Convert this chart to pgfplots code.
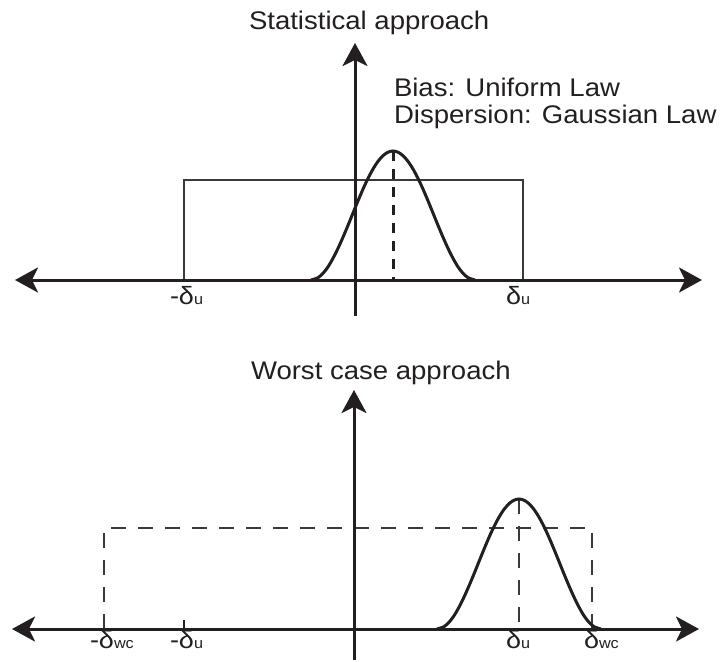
\documentclass[border=0pt]{standalone}
\usepackage{pgfplots}
\pgfplotsset{compat=1.18}
\usepackage{fontspec}
\setmainfont{Liberation Sans}[FakeStretch=1.08]
\usetikzlibrary{arrows.meta}

\definecolor{ink}{RGB}{35,31,32}
\definecolor{thin}{RGB}{60,57,58}

% one label of the form  [-]delta_sub
\newcommand{\dlab}[2]{{\fontsize{25}{29}\selectfont #1δ}{\fontsize{15}{17}\selectfont #2}}

\tikzset{
  axisarrow/.style={line width=3pt, draw=ink,
    {Stealth[length=23pt,width=25pt,inset=6pt]}-{Stealth[length=23pt,width=25pt,inset=6pt]}},
  uparrow/.style={line width=3pt, draw=ink, -{Stealth[length=23pt,width=25pt,inset=6pt]}},
  lab/.style={anchor=base west, text=ink, inner sep=0pt, outer sep=0pt},
}

\begin{document}
\begin{tikzpicture}
\begin{axis}[
  width=720pt, height=661pt, scale only axis,
  xmin=0, xmax=720, ymin=0, ymax=661, y dir=reverse,
  hide axis, clip=false,
]
% page frame
\addplot[draw=none] coordinates {(0,0) (720,661)};

% ---------------- Statistical approach ----------------
% bias: uniform law
\addplot[line width=1.3pt, draw=thin] coordinates {(184,280) (184,180) (523,180) (523,280)};
% dispersion: raised bell around the bias
\addplot[line width=3pt, draw=ink, smooth] coordinates {
  (311,280) (318,277.69) (323,273.32) (328,266.88) (333,258.29) (338,248.33)
  (343,237.21) (348,225.34) (353,213.01) (358,200.83) (363,189.11) (368,178.39)
  (373,169.03) (378,161.36) (383,155.68) (388,152.17) (393,151.0)
  (398,152.17) (403,155.68) (408,161.36) (413,169.03) (418,178.39) (423,189.11)
  (428,200.83) (433,213.01) (438,225.34) (443,237.21) (448,248.33) (453,258.29)
  (458,266.88) (463,273.32) (468,277.69) (475,280)};
\addplot[line width=3pt, draw=ink, dash pattern=on 10pt off 8pt] coordinates {(393,151) (393,280)};
% axes
\addplot[axisarrow] coordinates {(15,280) (702,280)};
\addplot[uparrow] coordinates {(355,316) (355,43)};

\node[lab] at (axis cs:249,29) {\fontsize{25.5}{30}\selectfont Statistical approach};
\node[lab] at (axis cs:394,96) {\fontsize{25.5}{30}\selectfont Bias: Uniform Law};
\node[lab] at (axis cs:394,123) {\fontsize{25.5}{30}\selectfont Dispersion: Gaussian Law};
\node[lab] at (axis cs:170,304) {\dlab{-}{u}};
\node[lab] at (axis cs:506,304) {\dlab{}{u}};

% ---------------- Worst case approach ----------------
\addplot[line width=1.4pt, draw=thin, dash pattern=on 15pt off 12pt] coordinates {(104,629) (104,528) (592,528) (592,629)};
\addplot[line width=1.4pt, draw=thin, dash pattern=on 15pt off 12pt] coordinates {(519,499) (519,629)};
\addplot[line width=3pt, draw=ink, smooth] coordinates {
  (437,629) (444,626.67) (449,622.27) (454,615.78) (459,607.12) (464,597.08)
  (469,585.88) (474,573.92) (479,561.49) (484,549.22) (489,537.40) (494,526.60)
  (499,517.17) (504,509.44) (509,503.72) (514,500.18) (519,499.0)
  (524,500.18) (529,503.72) (534,509.44) (539,517.17) (544,526.60) (549,537.40)
  (554,549.22) (559,561.49) (564,573.92) (569,585.88) (574,597.08) (579,607.12)
  (584,615.78) (589,622.27) (594,626.67) (601,629)};
\addplot[line width=2pt, draw=ink] coordinates {(184,620) (184,629)};
\addplot[axisarrow] coordinates {(12,629) (699,629)};
\addplot[uparrow] coordinates {(354,660) (354,390)};

\node[lab] at (axis cs:251,379) {\fontsize{25.5}{30}\selectfont Worst case approach};
\node[lab] at (axis cs:90,648) {\dlab{-}{wc}};
\node[lab] at (axis cs:170,648) {\dlab{-}{u}};
\node[lab] at (axis cs:506,648) {\dlab{}{u}};
\node[lab] at (axis cs:584,648) {\dlab{}{wc}};
\end{axis}
\end{tikzpicture}
\end{document}
